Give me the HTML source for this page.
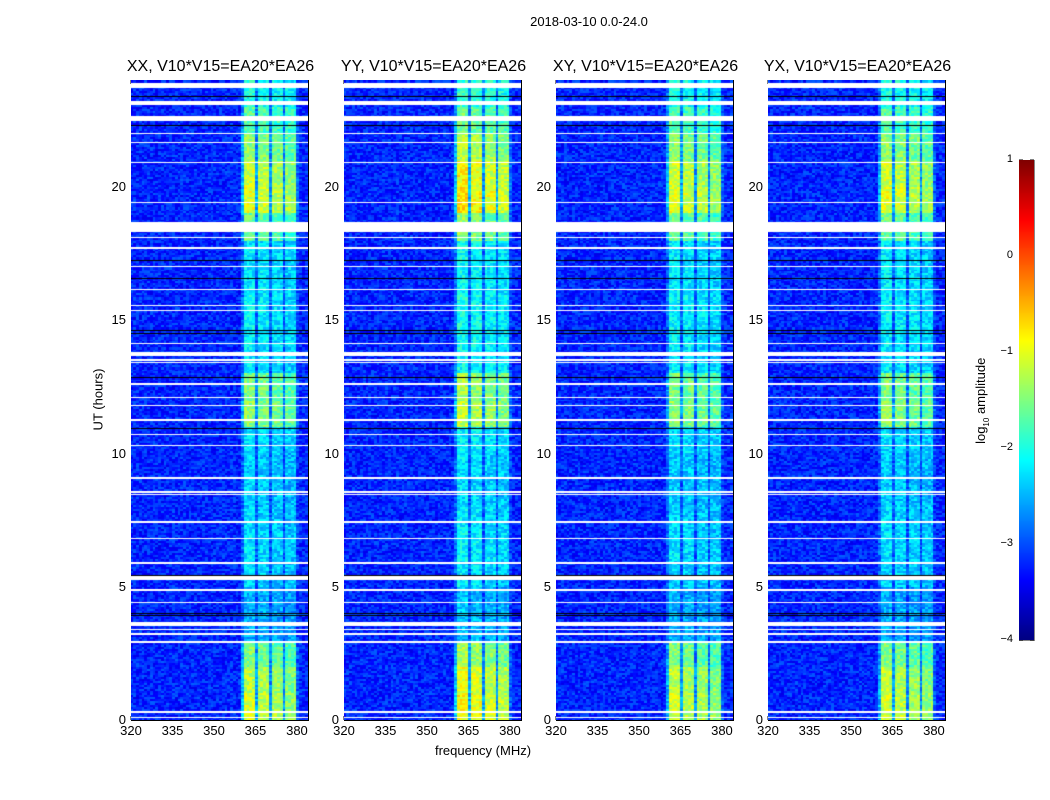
<!DOCTYPE html>
<html><head><meta charset="utf-8"><style>
body{margin:0;background:#fff;font-family:"Liberation Sans",sans-serif;}
#wrap{position:relative;width:1050px;height:800px;overflow:hidden;background:#fff}
.t{position:absolute;font-size:13px;color:#000;white-space:nowrap}
canvas{position:absolute}
</style></head><body>
<div id="wrap">
<svg id="svg" width="1050" height="800" style="position:absolute;left:0;top:0"></svg>
</div>
<script>
// ---- data ----
const panelTitles=["XX, V10*V15=EA20*EA26","YY, V10*V15=EA20*EA26","XY, V10*V15=EA20*EA26","YX, V10*V15=EA20*EA26"];
const panelGain=[1.0,1.12,1.0,1.0];
const channels=[];for(let f=320;f<384;f++)channels.push(f);
const bandShape=[0,0,0,0,0,0,0,0,0,0,0,0,0,0,0,0,0,0,0,0,0,0,0,0,0,0,0,0,0,0,0,0,0,0,0,0,0,0,0,0,0.35,1,1,1,1,0.3,0.95,0.95,0.95,0.95,0.25,0.9,0.9,0.9,0.9,0.25,0.85,0.85,0.85,0.85,0.15,0,0,0];
const hourGain=[2.1,2.0,1.7,0.7,0.7,0.9,0.95,0.9,0.85,0.85,0.95,1.8,1.7,1.0,1.05,1.05,1.0,1.0,1.6,2.2,2.1,1.8,1.5,1.2];
const baseLevel=-3.2;
const whiteGaps=[[23.7,23.87],[23.05,23.2],[22.46,22.65],[21.97,22.02],[21.64,21.69],[20.87,20.92],[19.37,19.42],[18.3,18.67],[18.07,18.12],[17.65,17.75],[16.98,17.03],[16.12,16.17],[15.53,15.58],[15.34,15.39],[14.1,14.15],[13.65,13.8],[13.47,13.52],[13.37,13.42],[12.55,12.65],[12.08,12.13],[11.78,11.83],[11.23,11.28],[10.68,10.73],[10.28,10.33],[9.05,9.1],[8.53,8.58],[8.42,8.47],[7.4,7.45],[6.78,6.83],[5.86,5.91],[5.25,5.4],[4.85,4.9],[4.37,4.42],[3.52,3.67],[3.38,3.43],[3.19,3.26],[2.9,2.95],[0.28,0.33],[0.08,0.12]];
const blackLines=[23.4,22.3,17.25,16.57,14.62,14.5,12.85,10.95,5.45,3.95,4.02];
const xTicks=[320,335,350,365,380];
const yTicks=[0,5,10,15,20];
const cbTicks=[1,0,-1,-2,-3,-4];
// ---- layout ----
const panelX=[131,344,556,768],PW=177,PT=80,PH=640;
const fMin=320,fMax=384,tMin=0,tMax=24;
const xs=(f,i)=>panelX[i]+(f-fMin)/(fMax-fMin)*PW;
const ys=h=>PT+PH-(h-tMin)/(tMax-tMin)*PH;
function jet(v){const x=Math.max(0,Math.min(1,(v+4)/5));const c=q=>Math.round(255*Math.max(0,Math.min(1,1.5-Math.abs(4*x-q))));return `rgb(${c(3)},${c(2)},${c(1)})`;}
function tex(a,b){let h=(a*374761393+b*668265263)|0;h=(h^(h>>>13))*1274126177|0;return ((h>>>0)%1000)/1000-0.5;}
const wrap=document.getElementById('wrap');
const svg=document.getElementById('svg');
const NS="http://www.w3.org/2000/svg";
function txt(s,x,y,cls,anchor,size){const e=document.createElement('div');e.className='t';e.textContent=s;e.style.fontSize=(size||13)+'px';
 e.style.top=(y-(size||13)*0.6)+'px';if(anchor==='middle'){e.style.left=x+'px';e.style.transform='translateX(-50%)';}else if(anchor==='end'){e.style.right=(1050-x)+'px';}else e.style.left=x+'px';
 
 
 wrap.appendChild(e);return e;}
function ln(x1,y1,x2,y2,c,w){const l=document.createElementNS(NS,'line');l.setAttribute('x1',x1);l.setAttribute('y1',y1);l.setAttribute('x2',x2);l.setAttribute('y2',y2);l.setAttribute('stroke',c);l.setAttribute('stroke-width',w||1);svg.appendChild(l);return l;}
txt("2018-03-10 0.0-24.0",589,22,'figure-title','middle',13);
const rows=320;
for(let i=0;i<4;i++){
 const cv=document.createElement('canvas');cv.width=PW;cv.height=PH;cv.style.left=panelX[i]+'px';cv.style.top=PT+'px';
 
 
 wrap.appendChild(cv);const ctx=cv.getContext('2d');
 for(let r=0;r<rows;r++){
  const h0=r*24/rows,h1=(r+1)*24/rows;const g=hourGain[Math.min(23,Math.floor(h0))]*panelGain[i];
  for(let c=0;c<channels.length;c++){
   const f=channels[c];const v=baseLevel+bandShape[c]*g+tex(r*7+i,c*3+1)*0.6;
   ctx.fillStyle=jet(v);const x0=xs(f,i)-panelX[i],x1=xs(f+1,i)-panelX[i];
   ctx.fillRect(Math.floor(x0),Math.floor(ys(h1)-PT),Math.ceil(x1-x0)+1,Math.ceil(ys(h0)-ys(h1))+1);
  }}
 ctx.fillStyle='#000';blackLines.forEach(h=>ctx.fillRect(0,Math.round(ys(h)-PT),PW,1));
 ctx.fillStyle='#fff';whiteGaps.forEach(g=>{const a=Math.round(ys(g[1])-PT),b=Math.round(ys(g[0])-PT);ctx.fillRect(0,a,PW,Math.max(1,b-a));});
 const fr=document.createElementNS(NS,'rect');fr.setAttribute('x',panelX[i]+0.5);fr.setAttribute('y',PT+0.5);fr.setAttribute('width',PW);fr.setAttribute('height',PH);fr.setAttribute('fill','none');fr.setAttribute('stroke','#000');
 
 
 svg.appendChild(fr);
 txt(panelTitles[i],panelX[i]+PW/2+1,68,'panel-title','middle',16);
 xTicks.forEach(f=>{const x=xs(f,i);ln(x,PT+PH,x,PT+PH-4,'#000');ln(x,PT,x,PT+4,'#000');txt(String(f),x,731,'x-tick-label','middle',13);});
 yTicks.forEach(h=>{const y=ys(h);ln(panelX[i],y,panelX[i]+4,y,'#000');ln(panelX[i]+PW,y,panelX[i]+PW-4,y,'#000');txt(String(h),panelX[i]-5,y,'y-tick-label','end',13);});
}
const yl=txt("UT (hours)",98,400,'y-axis-title','middle',13);yl.style.transform='translateX(-50%) rotate(-90deg)';
txt("frequency (MHz)",483,751,'x-axis-title','middle',13);
// colorbar
const cbX=1019,cbW=15,cbT=160,cbH=480;
const cb=document.createElement('canvas');cb.width=cbW;cb.height=cbH;cb.style.left=cbX+'px';cb.style.top=cbT+'px';


wrap.appendChild(cb);const cctx=cb.getContext('2d');
for(let y=0;y<cbH;y++){cctx.fillStyle=jet(1-5*y/cbH);cctx.fillRect(0,y,cbW,1);}
const cf=document.createElementNS(NS,'rect');cf.setAttribute('x',cbX+0.5);cf.setAttribute('y',cbT+0.5);cf.setAttribute('width',cbW);cf.setAttribute('height',cbH);cf.setAttribute('fill','none');cf.setAttribute('stroke','#888');svg.appendChild(cf);
cbTicks.forEach(v=>{const y=cbT+(1-v)/5*cbH;ln(cbX,y,cbX+4,y,'#000');ln(cbX+cbW,y,cbX+cbW-4,y,'#000');txt(v<0?'\u2212'+(-v):String(v),1013,y,'colorbar-tick-label','end',11);});
const cl=document.createElement('div');cl.className='t';cl.innerHTML='log<sub style="font-size:8px">10</sub> amplitude';cl.style.left='982px';cl.style.top='392px';cl.style.transform='translateX(-50%) rotate(-90deg)';


wrap.appendChild(cl);
</script>
</body></html>
